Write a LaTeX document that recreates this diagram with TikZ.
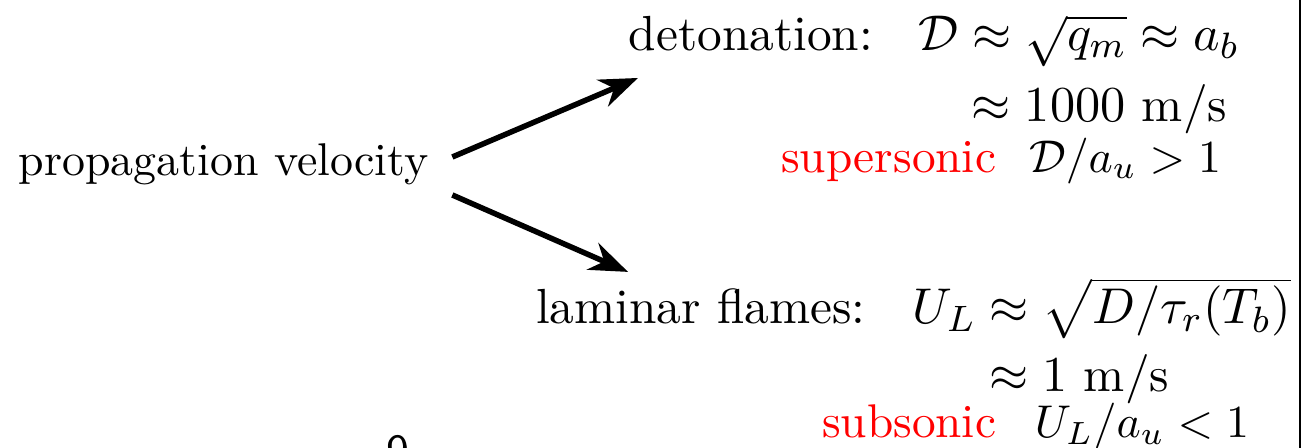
\documentclass[tikz,border=0pt]{standalone}
\usepackage{amsmath}
\usepackage{amssymb}
\usepackage{tikz}
\usetikzlibrary{calc, arrows.meta}

\begin{document}
\begin{tikzpicture}[bw/.style={anchor=base west, inner sep=0pt},
    be/.style={anchor=base east, inner sep=0pt},
    big/.style={font=\fontsize{10.75}{13}\selectfont},
    mid/.style={font=\fontsize{10.3}{12}\selectfont},
    branch/.style={-{Stealth}, very thick}]
        \useasboundingbox (0,0) rectangle (10,3.43);
        \node[bw] (pv) at (0.138,2.09) {propagation velocity};
        % upper branch
        \node[bw, big] (det) at (4.809,3.047) {detonation:};
        \node[be, big] (detD) at (9.495,3.047) {$\mathcal{D}\approx\sqrt{q_m}\approx a_b$};
        \node[be, big] (detv) at (9.403,2.496) {$\approx 1000$ m/s};
        \node[be, mid, red] (sup) at (7.634,2.113) {supersonic};
        \node[be, mid] (supr) at (9.357,2.113) {$\mathcal{D}/a_u>1$};
        % lower branch
        \node[bw, big] (lam) at (4.097,0.95) {laminar flames:};
        \node[be, big] (lamU) at (9.89,0.95) {$U_L\approx\sqrt{D/\tau_r(T_b)}$};
        \node[be, big] (lamv) at (8.959,0.435) {$\approx 1$ m/s};
        \node[be, mid, red] (sub) at (7.634,0.077) {subsonic};
        \node[be, mid] (subr) at (9.571,0.077) {$U_L/a_u<1$};
        \coordinate (up) at (4.885,2.833);
        \coordinate (down) at (4.809,1.348);
        \draw[branch] ($(pv.base east)+(0.176,0.138)$) -- (up);
        \draw[branch] ($(pv.base east)+(0.176,-0.153)$) -- (down);
        \draw (9.954,0) -- (9.954,3.43);
        \node[bw] (page) at (2.95,-0.14) {\sffamily 9};
      \end{tikzpicture}
\end{document}
